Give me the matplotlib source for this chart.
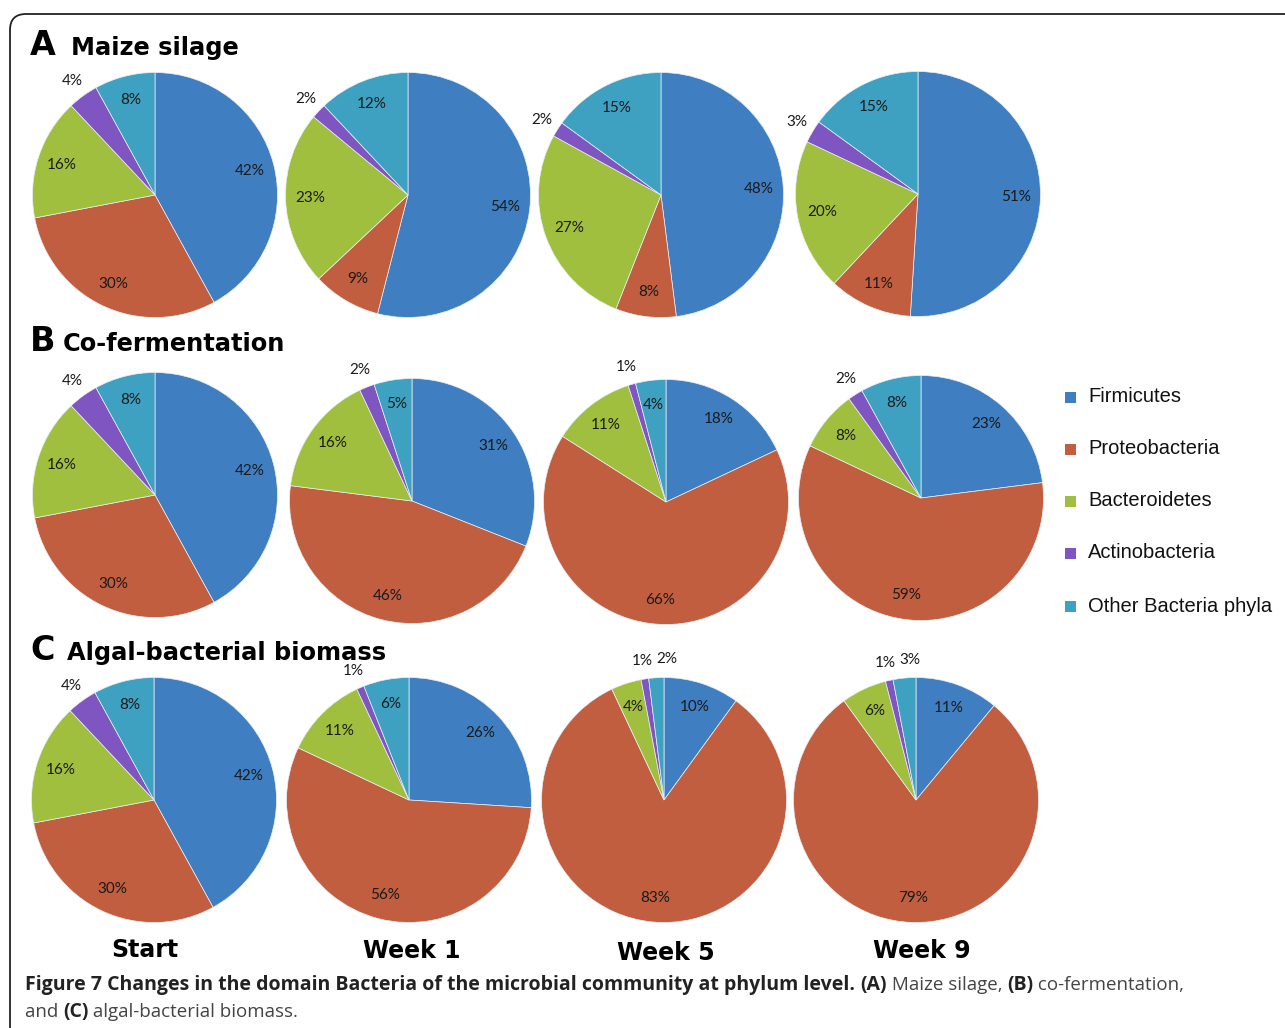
import matplotlib.pyplot as plt
from matplotlib.patches import FancyBboxPatch, Rectangle
import numpy as np

phyla = ['Firmicutes', 'Proteobacteria', 'Bacteroidetes', 'Actinobacteria', 'Other Bacteria phyla']
colors = ['#3f7fc1', '#c15e3f', '#a1bf3e', '#7f55c1', '#3fa1c1']
weeks = ['Start', 'Week 1', 'Week 5', 'Week 9']
panel_letters = ['A', 'B', 'C']
panel_titles = ['Maize silage', 'Co-fermentation', 'Algal-bacterial biomass']

# percent of each phylum, one list per sampling time
maize = [[42, 30, 16, 4, 8], [54, 9, 23, 2, 12], [48, 8, 27, 2, 15], [51, 11, 20, 3, 15]]
cofer = [[42, 30, 16, 4, 8], [31, 46, 16, 2, 5], [18, 66, 11, 1, 4], [23, 59, 8, 2, 8]]
algal = [[42, 30, 16, 4, 8], [26, 56, 11, 1, 6], [10, 83, 4, 1, 2], [11, 79, 6, 1, 3]]
rows = [maize, cofer, algal]

W, H = 1285, 1028
fig = plt.figure(figsize=(W / 100, H / 100), dpi=100)

# rounded frame around the whole figure
frame = FancyBboxPatch((0.10, -0.6), 13.5, 10.74, boxstyle='round,pad=0,rounding_size=0.16',
                       transform=fig.dpi_scale_trans, facecolor='none', edgecolor='#222222',
                       linewidth=1.3)
fig.add_artist(frame)

# pie centres in pixels (x, y from top)
centers = [[(155, 195), (408, 195), (661, 195), (918, 194)],
           [(155, 495), (412, 501), (666, 502), (921, 498)],
           [(154, 800), (409, 800), (664, 800), (916, 800)]]
R = 122.5
title_base = [55, 351, 660]
title_x = [71, 63, 67]

label_font = dict(family=['Lato', 'DejaVu Sans'], fontsize=11, color='#1a1a1a')

for i, data in enumerate(rows):
    for j, vals in enumerate(data):
        cx, cy = centers[i][j]
        ax = fig.add_axes([(cx - R) / W, (H - cy - R) / H, 2 * R / W, 2 * R / H])
        wedges, _ = ax.pie(vals, colors=colors, startangle=90, counterclock=False, radius=1,
                           wedgeprops=dict(edgecolor='#e9eff6', linewidth=0.5))
        ax.set_xlim(-1, 1)
        ax.set_ylim(-1, 1)
        ax.set_aspect('equal')
        ax.axis('off')
        last_out = None
        for k, (w, v) in enumerate(zip(wedges, vals)):
            mid = np.deg2rad((w.theta1 + w.theta2) / 2)
            outside = v <= 3 or phyla[k] == 'Actinobacteria'
            d = 1.15 if outside else 0.8
            x, y = d * np.cos(mid), d * np.sin(mid)
            if outside:
                # keep neighbouring outer labels from running into each other
                if last_out is not None and x - last_out < 0.2:
                    x = last_out + 0.2
                last_out = x
            ax.text(x, y, f'{v}%', ha='center', va='center', **label_font)
    y = (H - title_base[i]) / H
    fig.text(30 / W, y, panel_letters[i], fontsize=24, fontweight='bold',
             family='DejaVu Sans', va='baseline')
    fig.text(title_x[i] / W, y, panel_titles[i], fontsize=17.4, fontweight='bold',
             family='DejaVu Sans', va='baseline')

# column labels
col_x = [145, 412, 666, 922]
col_base = [957, 958, 960, 958]
for name, x, b in zip(weeks, col_x, col_base):
    fig.text(x / W, (H - b) / H, name, fontsize=17, fontweight='heavy',
             family='DejaVu Sans', ha='center', va='baseline')

# legend
leg_y = [397, 449, 501, 553, 606]
for name, c, y in zip(phyla, colors, leg_y):
    fig.add_artist(Rectangle((1065 / W, (H - y - 5.5) / H), 11 / W, 11 / H,
                             transform=fig.transFigure, facecolor=c, edgecolor='none'))
    fig.text(1088 / W, (H - y) / H, name, fontsize=14.5, family='Liberation Sans',
             color='#111111', va='center')

# caption with mixed bold / regular runs
caption = [
    [('Figure 7 Changes in the domain Bacteria of the microbial community at phylum level. ', 'bold'),
     ('(A)', 'bold'), (' Maize silage, ', 'normal'), ('(B)', 'bold'), (' co-fermentation,', 'normal')],
    [('and ', 'normal'), ('(C)', 'bold'), (' algal-bacterial biomass.', 'normal')],
]
cap_base = [990, 1017]
renderer = fig.canvas.get_renderer()
for line, b in zip(caption, cap_base):
    x = 25
    for txt, wt in line:
        t = fig.text(x / W, (H - b) / H, txt, fontsize=14 if wt == 'bold' else 13.5,
                     fontweight=wt, family='Open Sans',
                     color='#222222' if wt == 'bold' else '#444444', va='baseline')
        x = t.get_window_extent(renderer).x1

fig.savefig('out.png', dpi=100)
